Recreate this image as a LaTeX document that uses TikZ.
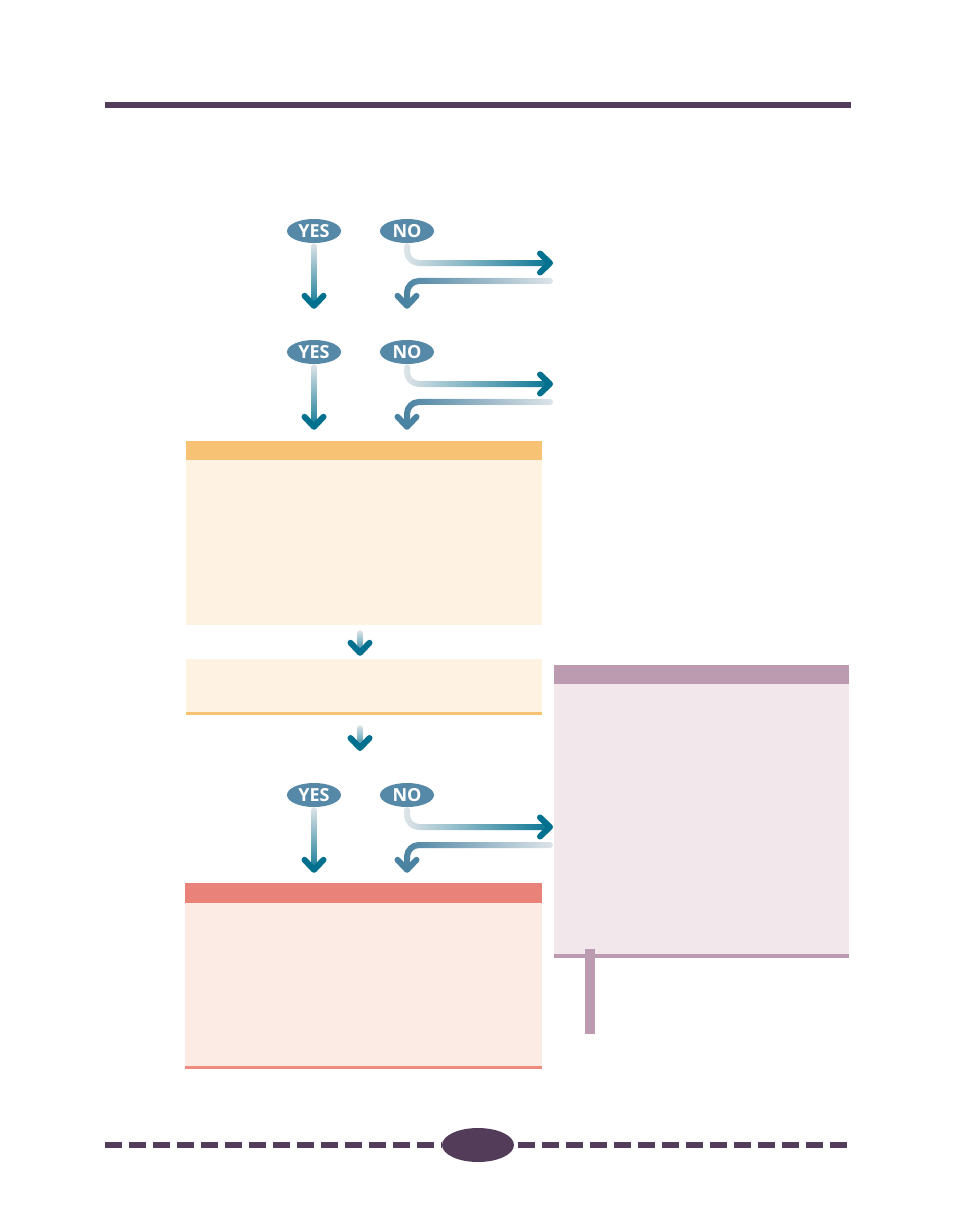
\documentclass[tikz,border=0pt]{standalone}
\usepackage{fontspec}
\setsansfont{Open Sans}
\usetikzlibrary{arrows.meta,shapes.geometric,fadings,decorations.markings}

\definecolor{plum}{HTML}{523C5A}
\definecolor{choiceblue}{HTML}{5589A7}
\definecolor{deepteal}{HTML}{00708F}
\definecolor{pale}{HTML}{DFE5E9}
\definecolor{backblue}{HTML}{4A83A2}
\definecolor{orangehead}{HTML}{F7C274}
\definecolor{orangebody}{HTML}{FEF2E2}
\definecolor{redhead}{HTML}{E9837A}
\definecolor{redbody}{HTML}{FCEAE4}
\definecolor{redrule}{HTML}{EE8A7E}
\definecolor{plumhead}{HTML}{BC9BB0}
\definecolor{plumbody}{HTML}{F2E8EC}

\tikzfading[name=fadedown,top color=transparent!100,middle color=transparent!75,bottom color=transparent!0]
\tikzfading[name=faderight,left color=transparent!100,middle color=transparent!85,right color=transparent!0]
\tikzfading[name=fadeleft,right color=transparent!100,middle color=transparent!85,left color=transparent!0]

\tikzset{flowhead/.tip={Straight Barb[length=10pt,width=19pt,line width=6pt,line join=round,line cap=round]}}

\begin{document}
\begin{tikzpicture}[x=1pt,y=-1pt,
choice/.style={ellipse,fill=choiceblue,text=white,font=\sffamily\bfseries\fontsize{18}{18}\selectfont,minimum width=54,minimum height=24,inner sep=0pt},
panel/.style={rectangle,inner sep=0pt,minimum width=356},
flowbase/.style={line width=6pt,line cap=round,draw=pale,shorten >=7pt},
headmark/.style={postaction={decorate,decoration={markings,mark=at position 1 with {\arrow[#1]{flowhead}}}}},
yesflow/.style={flowbase,postaction={draw=deepteal,path fading=fadedown},headmark=deepteal},
noflow/.style={flowbase,rounded corners=12pt,postaction={draw=deepteal,path fading=faderight},headmark=deepteal},
backflow/.style={flowbase,rounded corners=12pt,postaction={draw=backblue,path fading=fadeleft},headmark=backblue}]
\useasboundingbox (0,0) rectangle (954,1206);
% rules
\fill[plum] (105,102) rectangle (851,108);
\node[ellipse,fill=plum,minimum width=72,minimum height=34,inner sep=0pt] (folio) at (478,1145) {};
\coordinate (footleft) at (105,1145);
\coordinate (footright) at (851,1145);
\draw[plum,line width=6pt,dash pattern=on 17pt off 7pt] (footleft) -- (folio.west);
\draw[plum,line width=6pt,dash pattern=on 17pt off 7pt] ([xshift=4pt]folio.east) -- (footright);

% panels
\node[panel,fill=orangebody,minimum height=184] (check) at (364,533) {};
\node[panel,fill=orangebody,minimum height=56] (step2) at (364,687) {};
\node[panel,fill=redbody,minimum width=357,minimum height=186] (alert) at (363.5,976) {};
\node[panel,fill=plumbody,minimum width=295,minimum height=293] (note) at (701.5,811.5) {};
\fill[orangehead] (check.north west) rectangle ([yshift=-19pt]check.north east);
\fill[orangehead] ([yshift=3pt]step2.south west) rectangle (step2.south east);
\fill[redhead] (alert.north west) rectangle ([yshift=-20pt]alert.north east);
\fill[redrule] ([yshift=3pt]alert.south west) rectangle (alert.south east);
\fill[plumhead] (note.north west) rectangle ([yshift=-19pt]note.north east);
\fill[plumhead] ([yshift=4pt]note.south west) rectangle (note.south east);
\fill[plumhead] ([xshift=31pt,yshift=9pt]note.south west) rectangle ([xshift=41pt,yshift=-76pt]note.south west);

% choices
\node[choice] (yes1) at (314,231) {YES};
\node[choice] (no1) at (407,231) {NO};
\node[choice] (yes2) at (314,352) {YES};
\node[choice] (no2) at (407,352) {NO};
\node[choice] (yes3) at (314,795) {YES};
\node[choice] (no3) at (407,795) {NO};
\coordinate (out1) at (553,263);
\coordinate (ret1) at (550,281);
\coordinate (out2) at (553,384);
\coordinate (ret2) at (550,402);
\coordinate (out3) at (553,827);
\coordinate (ret3) at (550,845);
\coordinate (q3) at (360,751);

\draw[yesflow] ([yshift=-3pt]yes1.south) -- ([yshift=31pt]yes2.north);
\draw[noflow] ([yshift=-3pt]no1.south) |- (out1);
\draw[backflow] (ret1) -| ([yshift=31pt]no2.north);
\draw[yesflow] ([yshift=-3pt]yes2.south) -- ([yshift=11pt]yes2 |- check.north);
\draw[noflow] ([yshift=-3pt]no2.south) |- (out2);
\draw[backflow] (ret2) -| ([yshift=11pt]no2 |- check.north);
\draw[yesflow] ([xshift=-4pt,yshift=-8pt]check.south) -- ([xshift=-4pt,yshift=3pt]step2.north);
\draw[yesflow] ([xshift=-4pt,yshift=-13pt]step2.south) -- (q3);
\draw[yesflow] ([yshift=-3pt]yes3.south) -- ([yshift=10pt]yes3 |- alert.north);
\draw[noflow] ([yshift=-3pt]no3.south) |- (out3);
\draw[backflow] (ret3) -| ([yshift=10pt]no3 |- alert.north);
\end{tikzpicture}
\end{document}
